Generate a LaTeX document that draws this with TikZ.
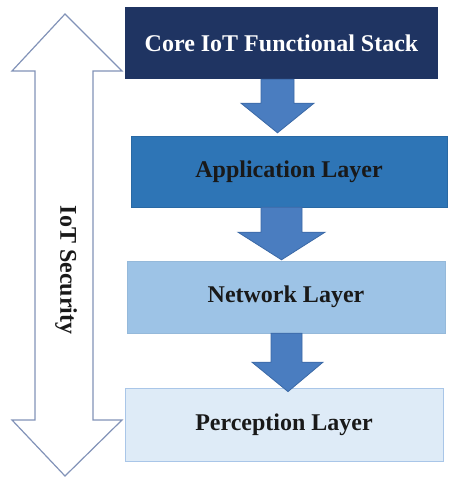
\documentclass[tikz,border=0pt]{standalone}
\usepackage{fontspec}
\setmainfont{Liberation Serif}
\usetikzlibrary{calc}
\definecolor{navy}{HTML}{1F3462}
\definecolor{appblue}{HTML}{2E75B6}
\definecolor{netblue}{HTML}{9DC3E6}
\definecolor{perblue}{HTML}{DEEBF7}
\definecolor{perline}{HTML}{A9C6E8}
\definecolor{arrfill}{HTML}{4A7DC0}
\definecolor{arrline}{HTML}{3B69A6}
\definecolor{secline}{HTML}{8293B8}
\begin{document}
\begin{tikzpicture}[x=1pt,y=-1pt,
  layer/.style={rectangle,inner sep=0pt,font=\fontsize{24}{28}\selectfont\bfseries,text=black!90},
  barrow/.style={fill=arrfill,draw=arrline,line width=0.8pt,line join=miter},
  secarrow/.style={draw=secline,fill=white,line width=1.2pt,line join=miter}]
\useasboundingbox (0,0) rectangle (457,479);
% layer boxes
\node[layer,fill=navy,text=white,minimum width=313pt,minimum height=72pt] (core) at (281.5,43) {Core IoT Functional Stack};
\node[layer,fill=appblue,draw=appblue!90!black,minimum width=316pt,minimum height=71pt] (app) at (289,171.5) {Application Layer};
\node[layer,fill=netblue,draw=netblue!95!black,minimum width=318pt,minimum height=72pt] (net) at (286,297) {Network Layer};
\node[layer,fill=perblue,draw=perline,line width=0.8pt,minimum width=318pt,minimum height=73pt] (per) at (284,424.5) {Perception Layer};
% block arrows between layers
\coordinate (c1) at (277.5,0);
\coordinate (c2) at (281.5,0);
\coordinate (c3) at (287,0);
\draw[barrow] ($(c1 |- core.south)+(-16.5,0)$) -- ($(c1 |- core.south)+(16.5,0)$)
  -- ($(c1 |- core.south)+(16.5,24)$) -- ($(c1 |- core.south)+(36.5,24)$)
  -- ($(c1 |- app.north)+(0,-3)$) -- ($(c1 |- core.south)+(-36.5,24)$)
  -- ($(c1 |- core.south)+(-16.5,24)$) -- cycle;
\draw[barrow] ($(c2 |- app.south)+(-20.5,0)$) -- ($(c2 |- app.south)+(20.5,0)$)
  -- ($(c2 |- app.south)+(20.5,25)$) -- ($(c2 |- app.south)+(43.5,25)$)
  -- ($(c2 |- net.north)+(0,-1)$) -- ($(c2 |- app.south)+(-43.5,25)$)
  -- ($(c2 |- app.south)+(-20.5,25)$) -- cycle;
\draw[barrow] ($(c3 |- net.south)+(-16,0)$) -- ($(c3 |- net.south)+(15,0)$)
  -- ($(c3 |- net.south)+(15,29)$) -- ($(c3 |- net.south)+(36,29)$)
  -- ($(c3 |- per.north)+(1,4)$) -- ($(c3 |- net.south)+(-35,29)$)
  -- ($(c3 |- net.south)+(-16,29)$) -- cycle;
% IoT security double arrow
\draw[secarrow] (65,14) -- (122,71) -- (93,71) -- (93,420) -- (122,420) -- (65,476)
  -- (12,420) -- (35,420) -- (35,71) -- (12,71) -- cycle;
\node[layer,rotate=-90] (sec) at (66,270) {IoT Security};
\end{tikzpicture}
\end{document}
